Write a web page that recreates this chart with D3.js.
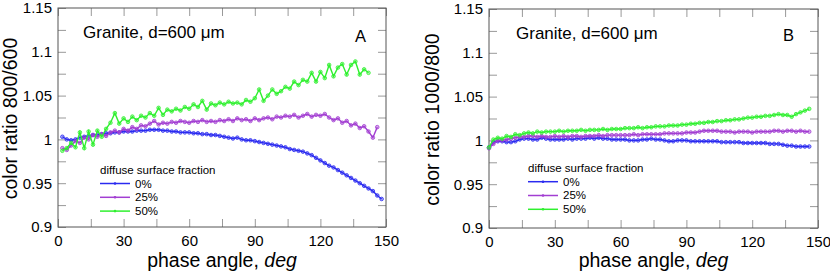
<!DOCTYPE html>
<html>
<head>
  <meta charset="utf-8">
  <script src="https://d3js.org/d3.v7.min.js"></script>
  <style>
    body { margin: 0; background: #fff; }
    text { font-family: "Liberation Sans", Arial, sans-serif; fill: #000; }
  </style>
</head>
<body>
<script>
  // phase angles (deg) and colour ratios
  var anglesA = [2,4,6,8,10,12,14,16,18,20,22,24,26,28,30,32,34,36,38,40,42,44,46,48,50,52,54,56,58,60,62,64,66,68,70,72,74,76,78,80,82,84,86,88,90,92,94,96,98,100,102,104,106,108,110,112,114,116,118,120,122,124,126,128,130,132,134,136,138,140,142,144,146,148]
  var blueA = [1.003,1.000,0.999,1.000,1.002,1.003,1.004,1.005,1.005,1.006,1.007,1.007,1.008,1.008,1.009,1.009,1.009,1.010,1.010,1.010,1.011,1.011,1.011,1.010,1.010,1.009,1.009,1.008,1.008,1.008,1.007,1.007,1.006,1.006,1.005,1.005,1.004,1.003,1.002,1.001,1.002,1.000,0.999,0.999,0.998,0.997,0.996,0.995,0.994,0.993,0.992,0.991,0.989,0.988,0.987,0.986,0.984,0.982,0.979,0.976,0.973,0.970,0.968,0.965,0.962,0.959,0.956,0.953,0.950,0.947,0.944,0.941,0.936,0.932]
  var purpleA = [0.990,0.988,0.993,0.998,0.996,1.002,1.000,1.005,1.003,1.006,1.004,1.008,1.010,1.008,1.012,1.010,1.014,1.012,1.016,1.015,1.018,1.021,1.017,1.019,1.018,1.020,1.019,1.021,1.020,1.019,1.021,1.020,1.022,1.020,1.021,1.020,1.022,1.021,1.023,1.021,1.024,1.022,1.023,1.021,1.024,1.022,1.024,1.025,1.023,1.026,1.025,1.027,1.026,1.028,1.025,1.027,1.029,1.026,1.028,1.027,1.029,1.025,1.022,1.024,1.019,1.021,1.016,1.018,1.013,1.015,1.009,1.002,1.014]
  var greenA = [0.987,0.990,0.996,0.991,1.008,0.990,1.009,0.994,1.010,1.003,1.012,1.019,1.030,1.018,1.024,1.020,1.026,1.022,1.027,1.025,1.030,1.027,1.036,1.028,1.034,1.032,1.035,1.033,1.037,1.035,1.040,1.037,1.044,1.034,1.041,1.039,1.042,1.040,1.043,1.041,1.042,1.040,1.045,1.043,1.047,1.057,1.044,1.050,1.057,1.052,1.055,1.060,1.058,1.066,1.062,1.068,1.066,1.076,1.066,1.077,1.070,1.085,1.072,1.082,1.086,1.074,1.085,1.089,1.074,1.080,1.076]

  var anglesB = [0,2,4,6,8,10,12,14,16,18,20,22,24,26,28,30,32,34,36,38,40,42,44,46,48,50,52,54,56,58,60,62,64,66,68,70,72,74,76,78,80,82,84,86,88,90,92,94,96,98,100,102,104,106,108,110,112,114,116,118,120,122,124,126,128,130,132,134,136,138,140,142,144,146]
  var blueB = [0.992,0.998,0.999,0.999,0.998,0.998,0.999,1.001,1.002,1.002,1.001,1.001,1.003,1.002,1.001,1.001,1.001,1.001,1.002,1.001,1.002,1.002,1.002,1.003,1.002,1.003,1.002,1.002,1.001,1.001,1.001,1.001,1.000,1.000,1.000,1.001,1.001,1.002,1.001,1.001,1.000,0.999,0.999,1.000,1.000,1.000,0.999,0.999,0.999,0.999,0.999,0.999,0.999,0.998,0.998,0.998,0.998,0.998,0.997,0.997,0.997,0.997,0.997,0.997,0.996,0.996,0.996,0.995,0.994,0.994,0.993,0.993,0.993,0.993]
  var purpleB = [0.991,0.996,1.000,1.000,1.001,1.002,1.003,1.004,1.004,1.005,1.005,1.004,1.005,1.004,1.004,1.005,1.004,1.005,1.004,1.005,1.005,1.004,1.005,1.005,1.005,1.006,1.005,1.006,1.006,1.006,1.006,1.006,1.006,1.007,1.006,1.007,1.007,1.007,1.007,1.007,1.008,1.008,1.008,1.008,1.008,1.009,1.009,1.009,1.010,1.011,1.011,1.011,1.011,1.010,1.010,1.010,1.009,1.010,1.010,1.010,1.009,1.010,1.010,1.010,1.010,1.011,1.011,1.010,1.011,1.011,1.010,1.011,1.010,1.010]
  var greenB = [0.992,1.001,1.003,1.002,1.005,1.004,1.007,1.006,1.008,1.009,1.008,1.010,1.009,1.010,1.010,1.010,1.011,1.010,1.011,1.011,1.011,1.012,1.011,1.012,1.012,1.012,1.013,1.012,1.013,1.013,1.013,1.014,1.014,1.014,1.015,1.014,1.015,1.015,1.016,1.016,1.016,1.017,1.017,1.017,1.018,1.018,1.019,1.019,1.020,1.020,1.021,1.021,1.022,1.022,1.023,1.023,1.024,1.024,1.025,1.026,1.026,1.027,1.027,1.028,1.028,1.029,1.030,1.029,1.029,1.027,1.030,1.032,1.034,1.036]

  var xMajor = [0, 30, 60, 90, 120, 150]
  var xMinor = [15, 45, 75, 105, 135]
  var yMajor = [0.9, 0.95, 1, 1.05, 1.1, 1.15]
  var yMinor = [0.925, 0.975, 1.025, 1.075, 1.125]
  var legendLabels = ["0%", "25%", "50%"]
  var colors = ["#2a2af0", "#a23ed2", "#2ff02f"]

  var svg = d3.select("body").append("svg").attr("width", 830).attr("height", 275)

  function panel(p) {
    var x = d3.scaleLinear().domain([0, 150]).range([0, p.w])
    var y = d3.scaleLinear().domain([0.9, 1.15]).range([p.h, 0])
    var g = svg.append("g").attr("transform", `translate(${p.left}, ${p.top})`)

    // ticks, all pointing inward
    var tickSets = [
      [d3.axisLeft(y).tickValues(yMajor.concat(yMinor)), 0, 0],
      [d3.axisRight(y).tickValues(yMajor.concat(yMinor)), p.w, 0],
      [d3.axisBottom(x).tickValues(xMajor.concat(xMinor)), 0, p.h],
      [d3.axisTop(x).tickValues(xMajor.concat(xMinor)), 0, 0]
    ]
    tickSets.forEach(function (t) {
      var a = g.append("g").attr("transform", `translate(${t[1]}, ${t[2]})`)
        .call(t[0].tickSize(-8).tickFormat(""))
      a.select(".domain").remove()
      a.selectAll("line").attr("stroke", "#999")
    })

    var yl = g.append("g").call(d3.axisLeft(y).tickValues(yMajor).tickSize(0).tickPadding(6)
      .tickFormat(d => d3.format("")(+d.toFixed(2))))
    yl.select(".domain").remove()
    yl.selectAll("text").style("font-size", "15px").style("font-family", "Liberation Sans, Arial, sans-serif").attr("fill", "#000")

    var xl = g.append("g").attr("transform", `translate(0, ${p.h})`)
      .call(d3.axisBottom(x).tickValues(xMajor).tickSize(0).tickPadding(8))
    xl.select(".domain").remove()
    xl.selectAll("text").style("font-size", "15px").style("font-family", "Liberation Sans, Arial, sans-serif").attr("fill", "#000")

    g.append("rect").attr("width", p.w).attr("height", p.h)
      .attr("fill", "none").attr("stroke", "#555").attr("stroke-width", 1)

    var line = d3.line().x(d => x(d[0])).y(d => y(d[1]))
    p.series.forEach(function (vals, i) {
      var pts = vals.map((v, k) => [p.angles[k], v])
      g.append("path").datum(pts).attr("d", line)
        .attr("fill", "none").attr("stroke", colors[i]).attr("stroke-width", 1.4)
      g.selectAll(null).data(pts).enter().append("circle")
        .attr("cx", d => x(d[0])).attr("cy", d => y(d[1])).attr("r", 1.8)
        .attr("fill", colors[i]).attr("fill-opacity", 0.4)
        .attr("stroke", colors[i]).attr("stroke-width", 0.8)
    })

    // titles
    g.append("text").attr("x", p.w / 2).attr("y", 267 - p.top).attr("text-anchor", "middle")
      .style("font-size", "19.5px")
      .text("phase angle, ").append("tspan").style("font-style", "italic").text("deg")
    g.append("text").attr("transform", `translate(${p.ytx - p.left}, ${p.h / 2 + 1}) rotate(-90)`)
      .attr("text-anchor", "middle").style("font-size", "19.5px").text(p.ytitle)
    g.append("text").attr("x", p.annX - p.left).attr("y", p.annY - p.top)
      .style("font-size", "17px").text("Granite, d=600 μm")
    g.append("text").attr("x", p.letX - p.left).attr("y", p.letY - p.top)
      .style("font-size", "16.5px").text(p.letter)

    // legend
    var lg = g.append("g").attr("transform", `translate(${p.legX - p.left}, ${p.legY - p.top})`)
    lg.append("text").attr("x", 0).attr("y", 0).style("font-size", "11.5px").text("diffuse surface fraction")
    legendLabels.forEach(function (lab, i) {
      var ly = 10 + i * 13.8
      lg.append("line").attr("x1", 0).attr("x2", 30).attr("y1", ly).attr("y2", ly)
        .attr("stroke", colors[i]).attr("stroke-width", 1.5)
      lg.append("circle").attr("cx", 15).attr("cy", ly).attr("r", 1.3).attr("fill", colors[i])
      lg.append("text").attr("x", 35).attr("y", ly + 4).style("font-size", "11.5px").text(lab)
    })
  }

  panel({ left: 58, top: 8, w: 328, h: 219, angles: anglesA, series: [blueA, purpleA, greenA],
    ytitle: "color ratio 800/600", ytx: 17, annX: 83, annY: 37.5, letter: "A", letX: 355, letY: 42.3,
    legX: 100, legY: 173.5 })
  panel({ left: 489, top: 9, w: 329, h: 219, angles: anglesB, series: [blueB, purpleB, greenB],
    ytitle: "color ratio 1000/800", ytx: 439, annX: 516, annY: 39, letter: "B", letX: 783, letY: 40.7,
    legX: 528, legY: 171.7 })
</script>
</body>
</html>
